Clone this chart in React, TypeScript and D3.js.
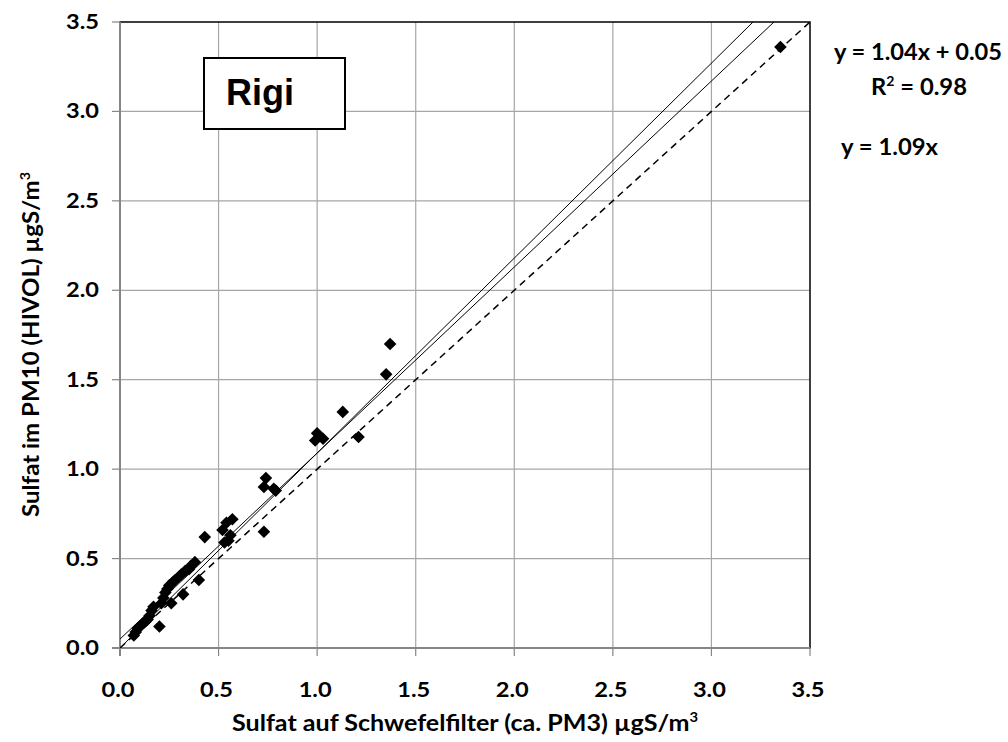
import React from "react";
import * as d3 from "d3";

const xValues = [0.07,0.08,0.09,0.1,0.11,0.12,0.13,0.14,0.15,0.16,0.17,0.2,0.21,0.22,0.23,0.24,0.25,0.26,0.27,0.28,0.3,0.31,0.32,0.33,0.35,0.36,0.38,0.4,0.43,0.52,0.53,0.54,0.55,0.56,0.57,0.73,0.73,0.74,0.78,0.79,0.99,1.0,1.03,1.13,1.21,1.35,1.37,3.35];
const yValues = [0.07,0.09,0.11,0.12,0.13,0.14,0.15,0.16,0.18,0.21,0.23,0.12,0.25,0.28,0.31,0.33,0.35,0.25,0.37,0.38,0.40,0.41,0.30,0.43,0.44,0.46,0.48,0.38,0.62,0.66,0.59,0.70,0.60,0.63,0.72,0.65,0.90,0.95,0.89,0.88,1.16,1.20,1.17,1.32,1.18,1.53,1.70,3.36];
const tickValues = [0, 0.5, 1.0, 1.5, 2.0, 2.5, 3.0, 3.5];
const fitLines = [
  { slope: 1.04, intercept: 0.05, dash: "" },
  { slope: 1.09, intercept: 0, dash: "" },
  { slope: 1.0, intercept: 0, dash: "7,5" },
];
const eqText1 = "y = 1.04x + 0.05";
const eqText2 = "= 0.98";
const eqText3 = "y = 1.09x";
const siteLabel = "Rigi";

const W = 1008, H = 742;
const L = 120, R = 810, T = 22, B = 648;

export default function App() {
  const x = d3.scaleLinear().domain([0, 3.5]).range([L, R]);
  const y = d3.scaleLinear().domain([0, 3.5]).range([B, T]);
  const font = "Lato, 'Open Sans', sans-serif";
  const diamond = (cx: number, cy: number, r = 6.3) =>
    `M${cx},${cy - r}L${cx + r},${cy}L${cx},${cy + r}L${cx - r},${cy}Z`;
  const line = d3.line<[number, number]>().x(d => x(d[0])).y(d => y(d[1]));
  const adj = "spacingAndGlyphs";
  return (
    <svg width={W} height={H} style={{ position: "absolute", left: 0, top: 0, background: "#fff" }}>
      <defs>
        <clipPath id="plotclip">
          <rect x={L} y={T} width={R - L} height={B - T} />
        </clipPath>
      </defs>
      <rect x={0} y={0} width={W} height={H} fill="#fff" />
      {tickValues.slice(1, -1).map(v => (
        <line key={"gx" + v} x1={x(v)} x2={x(v)} y1={T} y2={B} stroke="#a6a6a6" strokeWidth={1.2} />
      ))}
      {tickValues.slice(1, -1).map(v => (
        <line key={"gy" + v} x1={L} x2={R} y1={y(v)} y2={y(v)} stroke="#a6a6a6" strokeWidth={1.2} />
      ))}
      <rect x={L} y={T} width={R - L} height={B - T} fill="none" stroke="#000" strokeWidth={1.5} />
      <line x1={L} x2={L} y1={T} y2={B + 8} stroke="#868686" strokeWidth={2} />
      <line x1={L - 8} x2={R} y1={B} y2={B} stroke="#868686" strokeWidth={2} />
      {tickValues.map(v => (
        <line key={"tx" + v} x1={x(v)} x2={x(v)} y1={B} y2={B + 8} stroke="#868686" strokeWidth={1.2} />
      ))}
      {tickValues.map(v => (
        <line key={"ty" + v} x1={L - 8} x2={L} y1={y(v)} y2={y(v)} stroke="#868686" strokeWidth={1.2} />
      ))}
      {tickValues.map(v => (
        <text key={"lx" + v} x={x(v) - 2} y={697} textAnchor="middle" fontFamily={font} fontWeight="bold" fontSize={20}
          textLength={33} lengthAdjust={adj} fill="#000">
          {v.toFixed(1)}
        </text>
      ))}
      {tickValues.map(v => (
        <text key={"ly" + v} x={99} y={y(v) + 7} textAnchor="end" fontFamily={font} fontWeight="bold" fontSize={20}
          textLength={33} lengthAdjust={adj} fill="#000">
          {v.toFixed(1)}
        </text>
      ))}
      <g clipPath="url(#plotclip)">
        {fitLines.map((f, i) => (
          <path key={"f" + i} d={line([[0, f.intercept], [3.5, f.slope * 3.5 + f.intercept]]) || ""}
            fill="none" stroke="#000" strokeWidth={f.dash ? 1.5 : 1} strokeDasharray={f.dash || undefined} />
        ))}
      </g>
      {xValues.map((xv, i) => (
        <path key={"p" + i} d={diamond(x(xv), y(yValues[i]))} fill="#000" />
      ))}
      <rect x={204} y={58} width={141} height={71} fill="#fff" stroke="#000" strokeWidth={2} />
      <text x={226} y={105} fontFamily="'Liberation Sans', Arial, sans-serif" fontWeight="bold" fontSize={36} fill="#000">{siteLabel}</text>
      <text x={834} y={60} fontFamily={font} fontWeight="bold" fontSize={22} textLength={168} lengthAdjust={adj} fill="#000">{eqText1}</text>
      <text x={871} y={95} fontFamily={font} fontWeight="bold" fontSize={22} textLength={96} lengthAdjust={adj} fill="#000">
        R<tspan dy={-9} fontSize={13}>2</tspan><tspan dy={9}> {eqText2}</tspan>
      </text>
      <text x={841} y={155} fontFamily={font} fontWeight="bold" fontSize={22} textLength={97} lengthAdjust={adj} fill="#000">{eqText3}</text>
      <text x={232} y={731} fontFamily={font} fontWeight="bold" fontSize={22} textLength={466} lengthAdjust={adj} fill="#000">
        Sulfat auf Schwefelfilter (ca. PM3) µgS/m<tspan dy={-9} fontSize={13}>3</tspan>
      </text>
      <text transform={`translate(39,517) rotate(-90)`} fontFamily={font} fontWeight="bold" fontSize={22}
        textLength={345} lengthAdjust={adj} fill="#000">
        Sulfat im PM10 (HIVOL) µgS/m<tspan dy={-9} fontSize={13}>3</tspan>
      </text>
    </svg>
  );
}
